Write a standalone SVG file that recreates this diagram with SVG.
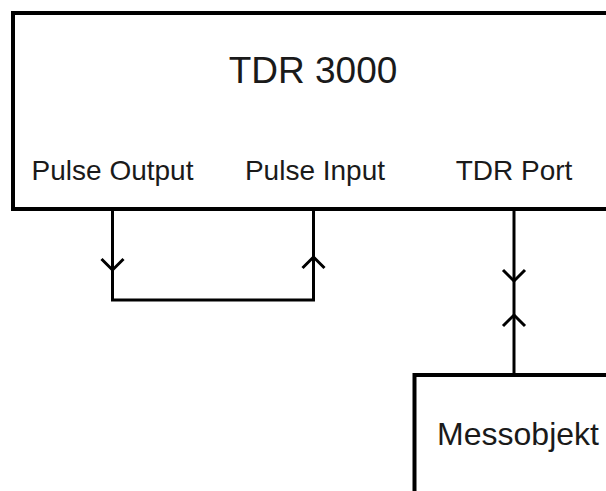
<svg xmlns="http://www.w3.org/2000/svg" width="606" height="491" viewBox="0 0 606 491">
  <style>
    .box { fill: #fff; stroke: #000; stroke-width: 4; }
    .wire { fill: none; stroke: #000; stroke-width: 3; }
    .head { fill: none; stroke: #000; stroke-width: 3; stroke-linejoin: miter; }
    .t { font-family: "Liberation Sans", Arial, sans-serif; fill: #1a1a1a; text-anchor: middle; }
  </style>
  <rect width="606" height="491" fill="#fff"/>
  <g id="tdr3000">
    <rect class="box" x="13" y="13" width="620" height="196"/>
    <text class="t" x="313" y="82.5" font-size="37">TDR 3000</text>
    <text class="t" x="112.5" y="180" font-size="28">Pulse Output</text>
    <text class="t" x="315" y="180" font-size="28">Pulse Input</text>
    <text class="t" x="514" y="180" font-size="28">TDR Port</text>
  </g>
  <g id="messobjekt">
    <rect class="box" x="414.5" y="375" width="300" height="200"/>
    <text class="t" x="518" y="445" font-size="32">Messobjekt</text>
  </g>
  <g id="connectors">
    <path class="wire" d="M112.5,211 V300 H313.5 V211"/>
    <polyline class="head" points="101.5,259 112.5,270 123.5,259"/>
    <polyline class="head" points="302.5,268 313.5,257 324.5,268"/>
    <line class="wire" x1="514" y1="211" x2="514" y2="373"/>
    <polyline class="head" points="503,270 514,281 525,270"/>
    <polyline class="head" points="503,326 514,315 525,326"/>
  </g>
</svg>
